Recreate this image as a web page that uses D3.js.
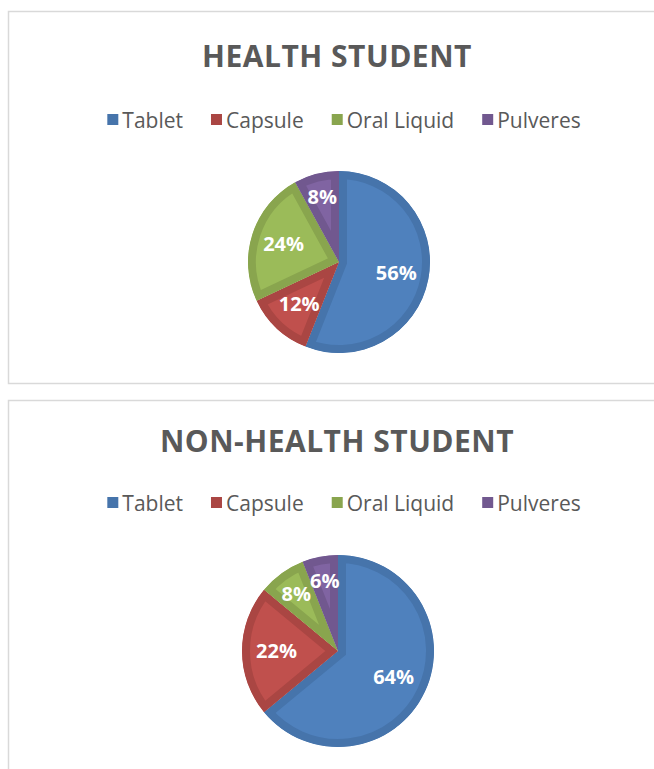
<!DOCTYPE html>
<html>
<head>
<meta charset="utf-8">
<script src="https://cdn.jsdelivr.net/npm/d3@7"></script>
<style>
  body { margin: 0; background: #fff; }
  svg { display: block; font-family: "Open Sans", sans-serif; }
</style>
</head>
<body>
<script>
var categories = ["Tablet", "Capsule", "Oral Liquid", "Pulveres"];
var healthValues = [56, 12, 24, 8];
var nonHealthValues = [64, 22, 8, 6];
var titles = ["HEALTH STUDENT", "NON-HEALTH STUDENT"];

var fillColors = ["#4f81bd", "#c0504d", "#9bbb59", "#8064a2"];
var edgeColors = ["#4674ab", "#aa4643", "#89a54e", "#71588f"];

var width = 654, height = 769;

var svg = d3.select("body").append("svg")
    .attr("width", width)
    .attr("height", height);

var color = d3.scaleOrdinal().domain(categories).range(fillColors);
var edge = d3.scaleOrdinal().domain(categories).range(edgeColors);

// one block per chart panel
var panels = [
  {title: titles[0], values: healthValues, top: 11, h: 372, titleY: 67, legendY: 128, cx: 339, cy: 262, r: 91},
  {title: titles[1], values: nonHealthValues, top: 400, h: 400, titleY: 452, legendY: 511, cx: 338, cy: 651, r: 96}
];

var pie = d3.pie().sort(null).startAngle(0).endAngle(2 * Math.PI);

panels.forEach(function(p, pi) {
  var g = svg.append("g");

  g.append("rect")
      .attr("x", 8.5)
      .attr("y", p.top + 0.5)
      .attr("width", 700)
      .attr("height", p.h)
      .attr("fill", "#fff")
      .attr("stroke", "#d9d9d9")
      .attr("stroke-width", 1.5);

  g.append("text")
      .attr("x", 337)
      .attr("y", p.titleY)
      .attr("text-anchor", "middle")
      .attr("fill", "#595959")
      .style("font-size", "30px")
      .style("font-weight", 700)
      .style("letter-spacing", "0.5px")
      .text(p.title);

  // legend, laid out from measured text widths and centred
  var legend = g.append("g");
  var items = legend.selectAll("g")
    .data(categories)
    .enter().append("g");

  items.append("rect")
      .attr("y", -14)
      .attr("width", 11)
      .attr("height", 11)
      .attr("fill", function(d) { return edge(d); });

  items.append("text")
      .attr("x", 15)
      .attr("fill", "#595959")
      .style("font-size", "21px")
      .text(function(d) { return d; });

  var xpos = 0;
  items.each(function() {
    var w = d3.select(this).select("text").node().getComputedTextLength();
    d3.select(this).attr("transform", "translate(" + xpos + ",0)");
    xpos += 15 + w + 28;
  });
  xpos -= 28;
  legend.attr("transform", "translate(" + (344 - xpos / 2) + "," + p.legendY + ")");

  // pie
  var arcs = pie(p.values);
  var arc = d3.arc().innerRadius(0).outerRadius(p.r);
  var chart = g.append("g")
      .attr("transform", "translate(" + p.cx + "," + p.cy + ")");

  var slice = chart.selectAll("g.slice")
    .data(arcs)
    .enter().append("g")
      .attr("class", "slice");

  slice.append("clipPath")
      .attr("id", function(d, i) { return "clip" + pi + "_" + i; })
    .append("path")
      .attr("d", arc);

  slice.append("path")
      .attr("d", arc)
      .attr("fill", function(d, i) { return color(categories[i]); })
      .attr("stroke", function(d, i) { return edge(categories[i]); })
      .attr("stroke-width", 16)
      .attr("stroke-linejoin", "miter")
      .attr("clip-path", function(d, i) { return "url(#clip" + pi + "_" + i + ")"; });

  slice.append("text")
      .attr("transform", function(d) {
        var k = d.data < 10 ? 0.74 : 0.64;
        var la = d3.arc().innerRadius(p.r * k).outerRadius(p.r * k);
        return "translate(" + la.centroid(d) + ")";
      })
      .attr("text-anchor", "middle")
      .attr("dy", "0.35em")
      .attr("fill", "#fff")
      .style("font-size", "20px")
      .style("font-weight", 700)
      .text(function(d) { return d.data + "%"; });
});
</script>
</body>
</html>
